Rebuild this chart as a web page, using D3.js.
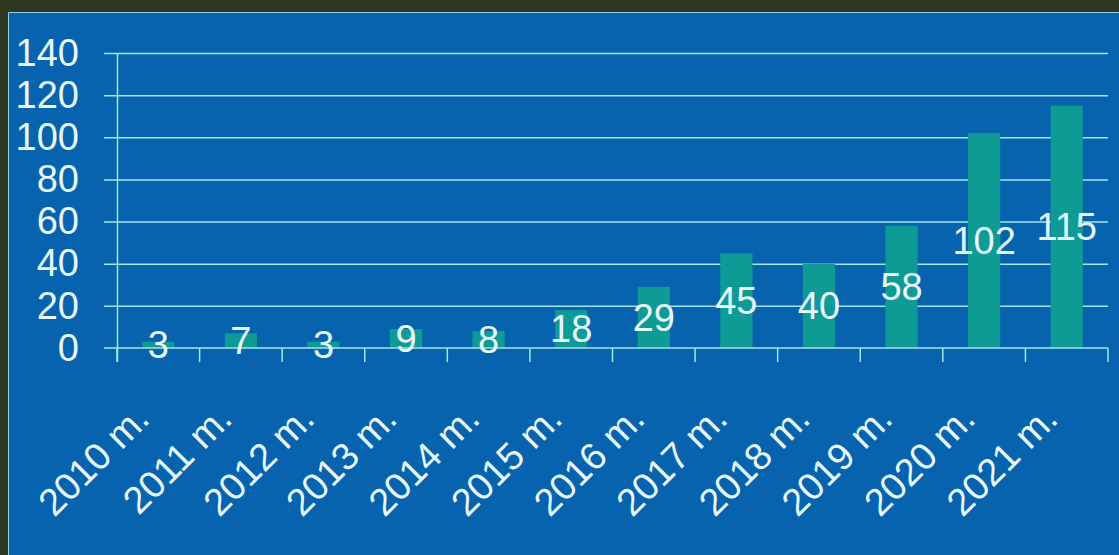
<!DOCTYPE html>
<html>
<head>
<meta charset="utf-8">
<script src="https://cdn.jsdelivr.net/npm/d3@7"></script>
<style>
  html, body { margin: 0; padding: 0; background: #2e3820; }
  svg { display: block; }
</style>
</head>
<body>
<div id="chart"></div>
<script>
// data
const years = ['2010 m.', '2011 m.', '2012 m.', '2013 m.', '2014 m.', '2015 m.',
  '2016 m.', '2017 m.', '2018 m.', '2019 m.', '2020 m.', '2021 m.'];
const counts = [3, 7, 3, 9, 8, 18, 29, 45, 40, 58, 102, 115];
const yTicks = [0, 20, 40, 60, 80, 100, 120, 140];

const W = 1119, H = 555;
const margin = {top: 53, right: 11, bottom: 207, left: 117};
const width = W - margin.left - margin.right;
const height = H - margin.top - margin.bottom;

const textCol = '#e6f8fb';
const lineCol = '#a6e4e6';

let svg = d3.select('#chart').append('svg')
  .attr('width', W)
  .attr('height', H);

// blue panel
svg.append('rect')
  .attr('x', 8).attr('y', 12)
  .attr('width', W - 8).attr('height', H - 12)
  .attr('fill', '#0763ad');
svg.append('path')
  .attr('d', 'M8.5,' + H + 'V12.5H' + W)
  .attr('fill', 'none')
  .attr('stroke', '#8fd0de')
  .attr('stroke-width', 1);

let g = svg.append('g')
  .attr('transform', 'translate(' + margin.left + ',' + margin.top + ')');

let x = d3.scaleBand()
  .domain(years)
  .range([0, width])
  .paddingInner(0.61)
  .paddingOuter(0.305);

let y = d3.scaleLinear()
  .domain([0, 140])
  .range([height, 0]);

// grid lines
g.selectAll('.grid')
  .data(yTicks.slice(1))
  .enter().append('line')
  .attr('class', 'grid')
  .attr('x1', -13).attr('x2', width)
  .attr('y1', d => y(d) + 0.5).attr('y2', d => y(d) + 0.5)
  .attr('stroke', lineCol)
  .attr('stroke-width', 1.5);

// bars
g.selectAll('.bar')
  .data(counts)
  .enter().append('rect')
  .attr('class', 'bar')
  .attr('x', (d, i) => x(years[i]))
  .attr('width', x.bandwidth())
  .attr('y', d => y(d))
  .attr('height', d => height - y(d))
  .attr('fill', '#0e9a95');

// y axis
let yAxis = g.append('g')
  .call(d3.axisLeft(y).tickValues(yTicks).tickSize(13).tickPadding(25));
yAxis.select('.domain').remove();
yAxis.selectAll('.tick line').remove();
yAxis.selectAll('text')
  .attr('fill', textCol)
  .style('font-family', 'Liberation Sans, Arial, sans-serif')
  .style('font-size', '38px');
g.append('line')
  .attr('x1', 0.5).attr('x2', 0.5)
  .attr('y1', 0).attr('y2', height + 14)
  .attr('stroke', lineCol).attr('stroke-width', 1.5);
g.append('line')
  .attr('x1', -13).attr('x2', 0)
  .attr('y1', height).attr('y2', height)
  .attr('stroke', lineCol).attr('stroke-width', 1.5);

// x axis
let step = x.step();
g.append('line')
  .attr('x1', 0).attr('x2', width)
  .attr('y1', height).attr('y2', height)
  .attr('stroke', lineCol).attr('stroke-width', 1.5);
g.selectAll('.xtick')
  .data(d3.range(years.length + 1))
  .enter().append('line')
  .attr('class', 'xtick')
  .attr('x1', i => i * step).attr('x2', i => i * step)
  .attr('y1', height).attr('y2', height + 14)
  .attr('stroke', lineCol).attr('stroke-width', 1.5);

g.selectAll('.xlabel')
  .data(years)
  .enter().append('text')
  .attr('class', 'xlabel')
  .attr('transform', d => 'translate(' + (x(d) + x.bandwidth() / 2 - 7) + ',' + (height + 73) + ') rotate(-45)')
  .attr('text-anchor', 'end')
  .attr('fill', textCol)
  .style('font-family', 'Liberation Sans, Arial, sans-serif')
  .style('font-size', '38px')
  .text(d => d);

// value labels, centred in the bar
g.selectAll('.val')
  .data(counts)
  .enter().append('text')
  .attr('class', 'val')
  .attr('x', (d, i) => x(years[i]) + x.bandwidth() / 2)
  .attr('y', d => (y(d) + height) / 2)
  .attr('dy', '0.35em')
  .attr('text-anchor', 'middle')
  .attr('fill', textCol)
  .style('font-family', 'Liberation Sans, Arial, sans-serif')
  .style('font-size', '38px')
  .text(d => d);
</script>
</body>
</html>
